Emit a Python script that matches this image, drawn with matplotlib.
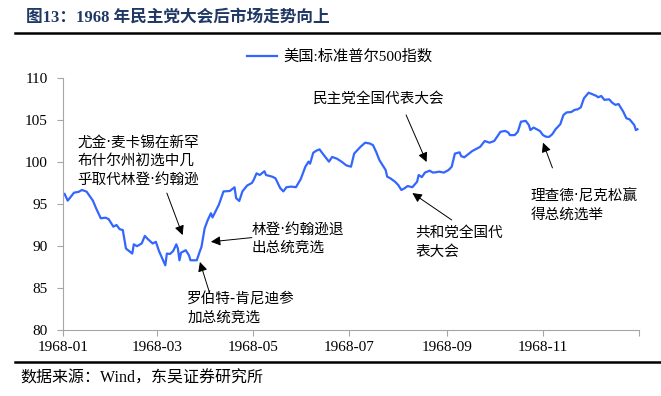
import numpy as np
import pandas as pd
import matplotlib
matplotlib.use('Agg')
import matplotlib.pyplot as plt
from matplotlib.lines import Line2D

# ── Data ──
# day offset from 1968-01-01, S&P 500 close
day = [1, 3, 7, 10, 12, 15, 18, 19, 21, 24, 27, 29, 32, 34, 36, 38, 40, 44, 45,
       47, 50, 52, 54, 57, 59, 61, 65, 66, 68, 70, 72, 73, 74, 75, 78, 80, 81,
       85, 87, 88, 90, 92, 94, 95, 99, 102, 106, 109, 110, 112, 114, 117, 120,
       121, 123, 125, 128, 129, 133, 135, 138, 140, 142, 145, 148, 151, 154,
       156, 157, 159, 161, 163, 165, 169, 171, 174, 177, 180, 183, 185, 189,
       192, 195, 197, 199, 201, 205, 206, 208, 211, 213, 215, 217, 219, 222,
       225, 226, 228, 230, 233, 235, 237, 239, 242, 245, 247, 249, 252, 253,
       255, 258, 260, 263, 265, 268, 271, 274, 278, 281, 283, 284, 287, 289,
       291, 294, 296, 297, 299, 301, 303, 305, 307, 309, 311, 313, 316, 318,
       320, 323, 325, 327, 329, 331, 334, 336, 339, 340, 342, 344, 347, 349,
       351, 353, 356, 358, 360, 363, 364, 365]
spx = [96.2, 95.4, 96.35, 96.45, 96.67, 96.47, 95.67, 95.4, 94.5, 93.3, 93.37,
       93.2, 92.3, 92.5, 92.0, 91.9, 89.7, 89.1, 90.2, 89.98, 90.3, 91.2, 90.8,
       90.3, 90.5, 89.4, 87.7, 89.1, 89.05, 89.4, 90.2, 89.7, 88.3, 89.2, 89.5,
       88.9, 88.3, 88.3, 89.4, 89.9, 92.1, 93.1, 93.9, 93.4, 94.9, 96.5, 96.55,
       96.99, 95.7, 95.36, 96.5, 97.2, 97.5, 97.8, 98.65, 98.45, 98.9, 98.45,
       98.25, 98.06, 96.9, 96.5, 97.0, 97.07, 97.0, 97.94, 99.44, 100.04, 99.8,
       101.1, 101.35, 101.5, 101.0, 100.04, 100.6, 100.4, 100.04, 99.6, 99.44,
       101.0, 101.8, 102.3, 102.2, 102.0, 101.2, 100.24, 99.05, 98.25, 98.06,
       97.65, 97.26, 96.67, 96.87, 97.14, 97.0, 97.65, 98.45, 98.2, 98.74,
       98.97, 98.74, 98.78, 98.85, 98.74, 99.05, 99.44, 101.0, 101.15, 100.7,
       100.56, 101.0, 101.3, 101.6, 101.8, 102.5, 102.3, 102.5, 103.6, 103.7,
       103.5, 103.2, 103.2, 103.6, 104.8, 104.9, 104.4, 103.8, 104.1, 103.9,
       103.7, 103.2, 103.0, 103.0, 103.33, 103.9, 104.5, 105.6, 105.9, 105.95,
       106.2, 106.27, 106.5, 107.58, 108.25, 108.1, 107.86, 107.7, 107.86,
       107.4, 107.46, 107.06, 106.8, 106.9, 105.99, 105.2, 105.08, 104.4,
       103.8, 103.9]
dates = pd.Timestamp('1968-01-01') + pd.to_timedelta(day, unit='D')

tick_dates = pd.to_datetime(['1968-01-01', '1968-03-01', '1968-05-01',
                             '1968-07-01', '1968-09-01', '1968-11-01'])
tick_labels = ['1968-01', '1968-03', '1968-05', '1968-07', '1968-09', '1968-11']
y_ticks = [80, 85, 90, 95, 100, 105, 110]

# annotations: text, arrow tip (date, value), text top-left (date, value)
events = [
    ('尤金·麦卡锡在新罕\n布什尔州初选中几\n乎取代林登·约翰逊', ('1968-03-17', 91.3), ('1968-01-10', 103.3)),
    ('林登·约翰逊退\n出总统竞选', ('1968-04-04', 90.5), ('1968-04-30', 92.9)),
    ('罗伯特-肯尼迪参\n加总统竞选', ('1968-03-28', 88.1), ('1968-03-20', 84.6)),
    ('民主党全国代表大会', ('1968-08-19', 100.0), ('1968-06-08', 108.5)),
    ('共和党全国代\n表大会', ('1968-08-10', 96.3), ('1968-08-12', 92.5)),
    ('理查德·尼克松赢\n得总统选举', ('1968-11-01', 102.3), ('1968-10-24', 96.9)),
]
# arrow tails (date, value)
tails = [('1968-03-07', 96.3), ('1968-04-30', 91.0), ('1968-04-03', 84.5),
         ('1968-08-06', 105.6), ('1968-09-04', 93.1), ('1968-11-07', 99.3)]

CJK = ['DejaVu Sans', 'Noto Sans CJK SC']
MIX = ['Liberation Serif', 'Noto Sans CJK SC']
plt.rcParams['font.family'] = CJK

fig = plt.figure(figsize=(6.61, 3.96), dpi=100)
ax = fig.add_axes([63 / 661, 1 - 330 / 396, 576 / 661, 252 / 396])

line, = ax.plot(dates, spx, color='#3366ff', lw=1.6, label='美国:标准普尔500指数')

ax.set_xlim(pd.Timestamp('1968-01-01'), pd.Timestamp('1969-01-01'))
ax.set_ylim(80, 110)
ax.set_yticks(y_ticks)
ax.set_xticks(list(tick_dates) + [pd.Timestamp('1969-01-01')])
ax.set_xticklabels(tick_labels + [''])
for lab in ax.get_xticklabels() + ax.get_yticklabels():
    lab.set_family('Liberation Serif')
    lab.set_fontsize(11)
ax.tick_params(axis='both', color='#a6a6a6', length=4, width=0.8)
ax.tick_params(axis='y', pad=7)
ax.tick_params(axis='x', pad=4)
for s in ['top', 'right']:
    ax.spines[s].set_visible(False)
for s in ['left', 'bottom']:
    ax.spines[s].set_color('#a6a6a6')
    ax.spines[s].set_linewidth(0.8)

for (txt, tip, pos), tail in zip(events, tails):
    ax.annotate('', xy=(pd.Timestamp(tip[0]), tip[1]),
                xytext=(pd.Timestamp(tail[0]), tail[1]),
                arrowprops=dict(arrowstyle='-|>', color='black', lw=0.7,
                                mutation_scale=14, shrinkA=0, shrinkB=0))
    ax.text(pd.Timestamp(pos[0]), pos[1], txt, fontsize=10.5, color='black',
            va='top', ha='left', linespacing=1.3, family=CJK)

ax.legend(handles=[line], loc='center', bbox_to_anchor=(0.514, 1 - 57 / 396),
          bbox_transform=fig.transFigure, frameon=False,
          handlelength=2.0, handletextpad=0.4, prop={'family': MIX, 'size': 11})

fig.text(26 / 661, 1 - 18 / 396, '图13：1968 年民主党大会后市场走势向上',
         fontsize=12, fontweight='bold', color='#1f3864', va='center', ha='left',
         family=MIX)
fig.add_artist(Line2D([15 / 661, 1], [1 - 33 / 396] * 2, color='black', lw=1.8))
fig.add_artist(Line2D([15 / 661, 1], [1 - 362 / 396] * 2, color='black', lw=1.8))
fig.text(20 / 661, 1 - 379 / 396, '数据来源：Wind，东吴证券研究所',
         fontsize=11.5, color='black', va='center', ha='left', family=MIX)

fig.savefig('out.png', dpi=100)
